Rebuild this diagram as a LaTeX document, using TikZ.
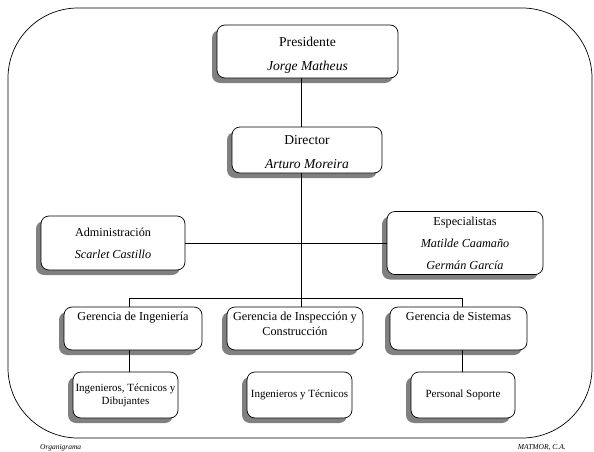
\documentclass[tikz,border=0pt]{standalone}
\usepackage{fontspec}
\setmainfont{Liberation Serif}
\usetikzlibrary{shadows}
\begin{document}
\begin{tikzpicture}[x=1pt,y=-1pt,
  box/.style={draw=black, line width=0.7pt, fill=white, rounded corners=8pt,
    general shadow={fill=black!50, shadow xshift=-5pt, shadow yshift=-5pt},
    align=center, inner sep=0pt},
  big/.style={font=\fontsize{13.6}{24}\selectfont},
  mid/.style={font=\fontsize{12.2}{22}\selectfont},
  small/.style={font=\fontsize{11}{13}\selectfont},
  txt/.style={align=center, inner sep=0pt},
  conn/.style={draw=black, line width=0.7pt},
  foot/.style={font=\fontsize{7.5}{8}\selectfont\itshape, inner sep=0pt}]
\useasboundingbox (0,0) rectangle (594,452);
\draw[line width=0.7pt, rounded corners=70pt] (8,8) rectangle (592,438);
% boxes
\node[box, minimum width=181pt, minimum height=53pt] (pres) at (307.5,51.5) {};
\node[txt, big] (pres-t) at (307.5,55) {Presidente\\\textit{Jorge Matheus}};
\node[box, minimum width=150pt, minimum height=46pt] (dir) at (307,150) {};
\node[txt, big] (dir-t) at (307,152) {Director\\\textit{Arturo Moreira}};
\node[box, mid, minimum width=144pt, minimum height=54pt] (adm) at (113,243)
  {Administración\\\textit{Scarlet Castillo}};
\node[box, mid, minimum width=156pt, minimum height=63pt] (esp) at (465,243)
  {Especialistas\\\textit{Matilde Caamaño}\\\textit{Germán García}};
\node[box, minimum width=138pt, minimum height=43pt] (gi) at (133,328.5) {};
\node[box, minimum width=136pt, minimum height=43pt] (gic) at (295,328.5) {};
\node[box, minimum width=137pt, minimum height=43pt] (gs) at (458.5,328.5) {};
\node[txt, mid, anchor=north] (gi-t) at ([yshift=-5pt]gi.north) {Gerencia de Ingeniería};
\node[txt, mid, anchor=north, font=\fontsize{12.2}{15}\selectfont] (gic-t) at ([yshift=-5pt]gic.north) {Gerencia de Inspección y\\Construcción};
\node[txt, mid, anchor=north] (gs-t) at ([yshift=-5pt]gs.north) {Gerencia de Sistemas};
\node[box, small, minimum width=105pt, minimum height=46pt] (b1) at (125.5,395)
  {Ingenieros, Técnicos y\\Dibujantes};
\node[box, small, minimum width=105pt, minimum height=46pt] (b2) at (299.5,395)
  {Ingenieros y Técnicos};
\node[box, small, minimum width=104pt, minimum height=46pt] (b3) at (463,395)
  {Personal Soporte};
% connectors
\coordinate (v) at (301,0);
\coordinate (bus) at (301,298);
\coordinate (busl) at (129,298);
\coordinate (busr) at (462,298);
\path[conn] (pres.south -| v) -- (dir.north -| v);
\path[conn] (dir.south -| v) -- (bus);
\path[conn] (adm.east) -- (esp.west);
\path[conn] (gi.north -| busl) -- (busl) -- (busr) -- (gs.north -| busr);
\path[conn] (bus) -- (gic.north -| bus);
\path[conn] (gi.south -| busl) -- (b1.north -| busl);
\path[conn] (gs.south -| busr) -- (b3.north -| busr);
% footer
\node[foot, anchor=west] (f1) at (40,448) {Organigrama};
\node[foot, anchor=east] (f2) at (566,448) {MATMOR, C.A.};
\end{tikzpicture}
\end{document}
